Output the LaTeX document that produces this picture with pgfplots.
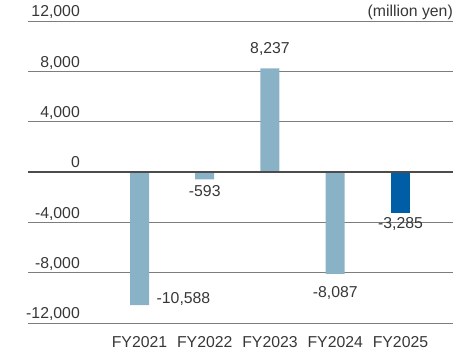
\documentclass[border=0pt]{standalone}
\usepackage{pgfplots}
\pgfplotsset{compat=1.18}
\usepackage{fontspec}
\setmainfont{Liberation Sans}
\definecolor{lightbar}{RGB}{138,178,198}
\definecolor{darkbar}{RGB}{0,94,167}
\definecolor{txt}{RGB}{55,55,55}
\definecolor{gridc}{RGB}{125,125,125}
\begin{document}
\begin{tikzpicture}
\path[use as bounding box] (0,0) rectangle (475pt,353pt);
\begin{axis}[
  at={(28pt,30pt)}, anchor=south west,
  scale only axis, width=425pt, height=302pt,
  xmin=-1.709, xmax=4.805, ymin=-12000, ymax=12000,
  scaled y ticks=false,
  ytick={-12000,-8000,-4000,0,4000,8000,12000},
  yticklabels={{-12,000},{-8,000},{-4,000},0,{4,000},{8,000},{12,000}},
  xtick={0,1,2,3,4},
  xticklabels={FY2021,FY2022,FY2023,FY2024,FY2025},
  axis line style={draw=none},
  major tick length=0pt,
  ymajorgrids, grid style={gridc, line width=0.9pt},
  tick label style={font=\fontsize{15.8}{18}\selectfont, text=txt},
  yticklabel style={anchor=base east, inner sep=0pt, xshift=52pt, yshift=4pt},
  xticklabel style={anchor=base, inner sep=0pt, yshift=-25pt},
  ybar, bar width=19pt, bar shift=0pt,
  clip=false,
]
\addplot[fill=lightbar, draw=none] coordinates {(0,-10588) (1,-593) (2,8237) (3,-8087)};
\addplot[fill=darkbar, draw=none] coordinates {(4,-3285)};
\draw[black!70, line width=1.4pt] (axis cs:-1.709,0) -- (axis cs:4.805,0);
\begin{scope}[every node/.style={font=\fontsize{15.8}{18}\selectfont, text=txt, inner sep=0pt}]
\node[anchor=base] at (axis cs:2,9417) {8,237};
\node[anchor=base] at (axis cs:1,-1987) {-593};
\node[anchor=base] at (axis cs:4,-4530) {-3,285};
\node[anchor=base] at (axis cs:3,-10013) {-8,087};
\node[anchor=base] at (axis cs:0.674,-10411) {-10,588};
\node[anchor=base east, yshift=4pt] at (rel axis cs:1,1) {(million yen)};
\end{scope}
\end{axis}
\end{tikzpicture}
\end{document}
